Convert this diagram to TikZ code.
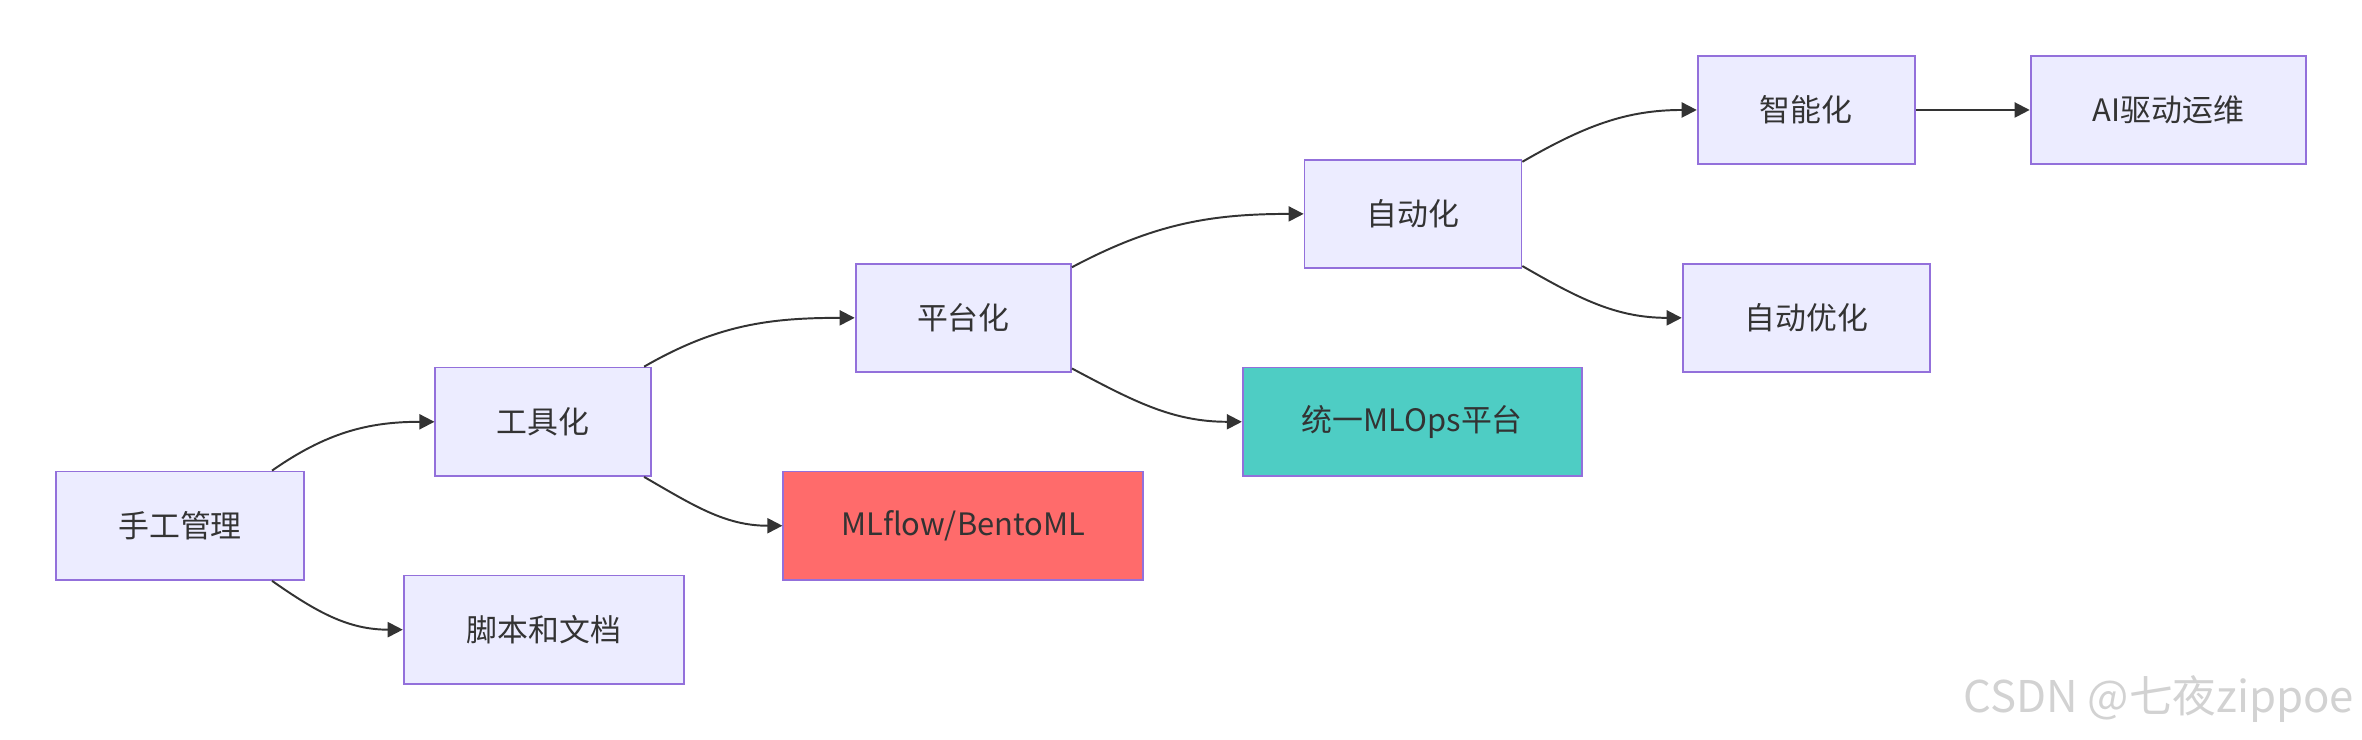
\documentclass[tikz,border=0pt]{standalone}
\usepackage{fontspec}
\setmainfont{Noto Sans CJK SC}
\usetikzlibrary{arrows.meta}
\definecolor{nodefill}{HTML}{ECECFF}
\definecolor{nodeline}{HTML}{9370DB}
\definecolor{txt}{HTML}{333333}
\definecolor{redfill}{HTML}{FF6B6B}
\definecolor{tealfill}{HTML}{4ECDC4}
\definecolor{wm}{HTML}{D2D2D2}
\tikzset{
  box/.style={draw=nodeline, fill=nodefill, line width=1.2pt, minimum height=72pt, inner sep=0pt, text=txt, font=\fontsize{20.5}{24}\selectfont},
  link/.style={draw=txt, line width=1.3pt, -{Triangle[length=10pt,width=10pt]}}
}
\begin{document}
\begin{tikzpicture}[x=1pt,y=1pt]
\useasboundingbox (0,0) rectangle (1568,-490.6);
\node[box, minimum width=165pt] (hand) at (119.5,-349) {手工管理};
\node[box, minimum width=186pt] (script) at (361,-418) {脚本和文档};
\node[box, minimum width=143pt] (tool) at (360.5,-280) {工具化};
\node[box, minimum width=239pt, fill=redfill] (mlflow) at (639.5,-349) {MLflow/BentoML};
\node[box, minimum width=143pt] (plat) at (639.5,-211) {平台化};
\node[box, minimum width=225pt, fill=tealfill] (mlops) at (937.5,-280) {统一MLOps平台};
\node[box, minimum width=144pt] (auto) at (938,-142) {自动化};
\node[box, minimum width=164pt] (autoopt) at (1199,-211) {自动优化};
\node[box, minimum width=144pt] (smart) at (1199,-73) {智能化};
\node[box, minimum width=183pt] (aiops) at (1439.5,-73) {AI驱动运维};

\draw[link] ([xshift=-22pt]hand.north east) to[out=35,in=180] (tool.west);
\draw[link] ([xshift=-22pt]hand.south east) to[out=-35,in=180] (script.west);
\draw[link] ([xshift=-5pt]tool.north east) to[out=30,in=180] (plat.west);
\draw[link] ([xshift=-5pt]tool.south east) to[out=-30,in=180] (mlflow.west);
\draw[link] ([yshift=-3pt]plat.north east) to[out=28,in=180] (auto.west);
\draw[link] ([yshift=3pt]plat.south east) to[out=-28,in=180] (mlops.west);
\draw[link] ([yshift=-2pt]auto.north east) to[out=30,in=180] (smart.west);
\draw[link] ([yshift=2pt]auto.south east) to[out=-30,in=180] (autoopt.west);
\draw[link] (smart.east) -- (aiops.west);

\node[anchor=south east, inner sep=0pt, text=wm, font=\fontsize{29}{32}\selectfont] (water) at (1563,-480) {CSDN @七夜zippoe};
\end{tikzpicture}
\end{document}
